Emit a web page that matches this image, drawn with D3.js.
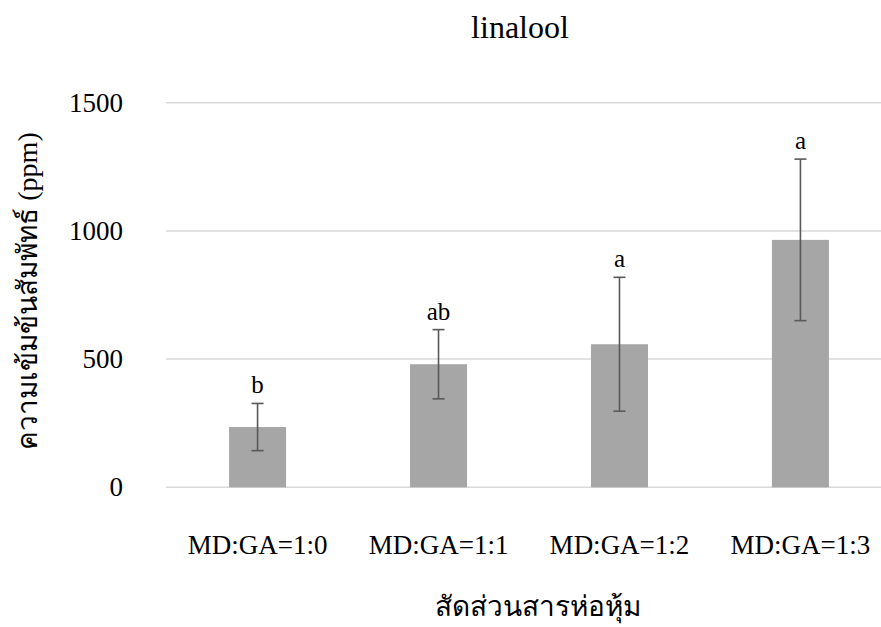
<!doctype html>
<html lang="th">
<head>
<meta charset="utf-8">
<script src="https://d3js.org/d3.v7.min.js"></script>
<style>
  body { margin: 0; background: #fff; }
  svg { display: block; font-family: "Liberation Serif", "Times New Roman", serif; }
</style>
</head>
<body>
<svg id="chart" width="881" height="627"></svg>
<script>
  // values
  var categories = ["MD:GA=1:0", "MD:GA=1:1", "MD:GA=1:2", "MD:GA=1:3"];
  var means = [235, 480, 558, 965];
  var errors = [92, 135, 261, 315];
  var letters = ["b", "ab", "a", "a"];
  var yTicks = [0, 500, 1000, 1500];

  var svg = d3.select("#chart");

  // plot area runs a bit past the right edge of the picture
  var x = d3.scaleBand().domain(categories).range([167, 891])
      .paddingInner(0.685).paddingOuter(0.343);
  var y = d3.scaleLinear().domain([0, 1500]).range([487.3, 102.7]);

  // gridlines
  svg.append("g").selectAll("line").data(yTicks).enter().append("line")
      .attr("x1", 166).attr("x2", 881)
      .attr("y1", function(d) { return y(d); }).attr("y2", function(d) { return y(d); })
      .attr("stroke", "#d9d9d9").attr("stroke-width", 1.5);

  // y axis labels
  var yAxis = svg.append("g").attr("transform", "translate(166,0)")
      .call(d3.axisLeft(y).tickValues(yTicks).tickSize(0).tickPadding(43).tickFormat(d3.format("d")));
  yAxis.select(".domain").remove();
  yAxis.selectAll("text").attr("font-size", 27).attr("fill", "#000")
      .attr("font-family", "Liberation Serif, serif");

  // bars
  var data = categories.map(function(c, i) {
    return {cat: c, mean: means[i], err: errors[i], letter: letters[i]};
  });
  svg.append("g").selectAll("rect").data(data).enter().append("rect")
      .attr("x", function(d) { return x(d.cat); })
      .attr("width", x.bandwidth())
      .attr("y", function(d) { return y(d.mean); })
      .attr("height", function(d) { return y(0) - y(d.mean); })
      .attr("fill", "#a6a6a6");

  // error bars
  var eb = svg.append("g").attr("stroke", "#595959").attr("stroke-width", 1.6);
  data.forEach(function(d) {
    var cx = x(d.cat) + x.bandwidth() / 2;
    eb.append("line").attr("x1", cx).attr("x2", cx)
        .attr("y1", y(d.mean + d.err)).attr("y2", y(d.mean - d.err));
    eb.append("line").attr("x1", cx - 6).attr("x2", cx + 6)
        .attr("y1", y(d.mean + d.err)).attr("y2", y(d.mean + d.err));
    eb.append("line").attr("x1", cx - 6).attr("x2", cx + 6)
        .attr("y1", y(d.mean - d.err)).attr("y2", y(d.mean - d.err));
  });

  // significance letters
  svg.append("g").selectAll("text").data(data).enter().append("text")
      .attr("x", function(d) { return x(d.cat) + x.bandwidth() / 2; })
      .attr("y", function(d) { return y(d.mean + d.err) - 10; })
      .attr("text-anchor", "middle").attr("font-size", 25)
      .text(function(d) { return d.letter; });

  // x axis labels
  var xAxis = svg.append("g").attr("transform", "translate(0,487)")
      .call(d3.axisBottom(x).tickSize(0).tickPadding(0));
  xAxis.select(".domain").remove();
  xAxis.selectAll("text").attr("font-size", 27).attr("fill", "#000")
      .attr("font-family", "Liberation Serif, serif")
      .attr("dy", null).attr("y", 67);

  // title
  svg.append("text").attr("x", 520).attr("y", 38).attr("text-anchor", "middle")
      .attr("font-size", 32).text("linalool");

  // axis titles
  svg.append("text").attr("x", 538).attr("y", 616).attr("text-anchor", "middle")
      .attr("font-size", 28).text("สัดส่วนสารห่อหุ้ม");
  svg.append("text").attr("transform", "translate(37,291) rotate(-90)")
      .attr("text-anchor", "middle").attr("font-size", 28)
      .text("ความเข้มข้นสัมพัทธ์ (ppm)");
</script>
</body>
</html>
